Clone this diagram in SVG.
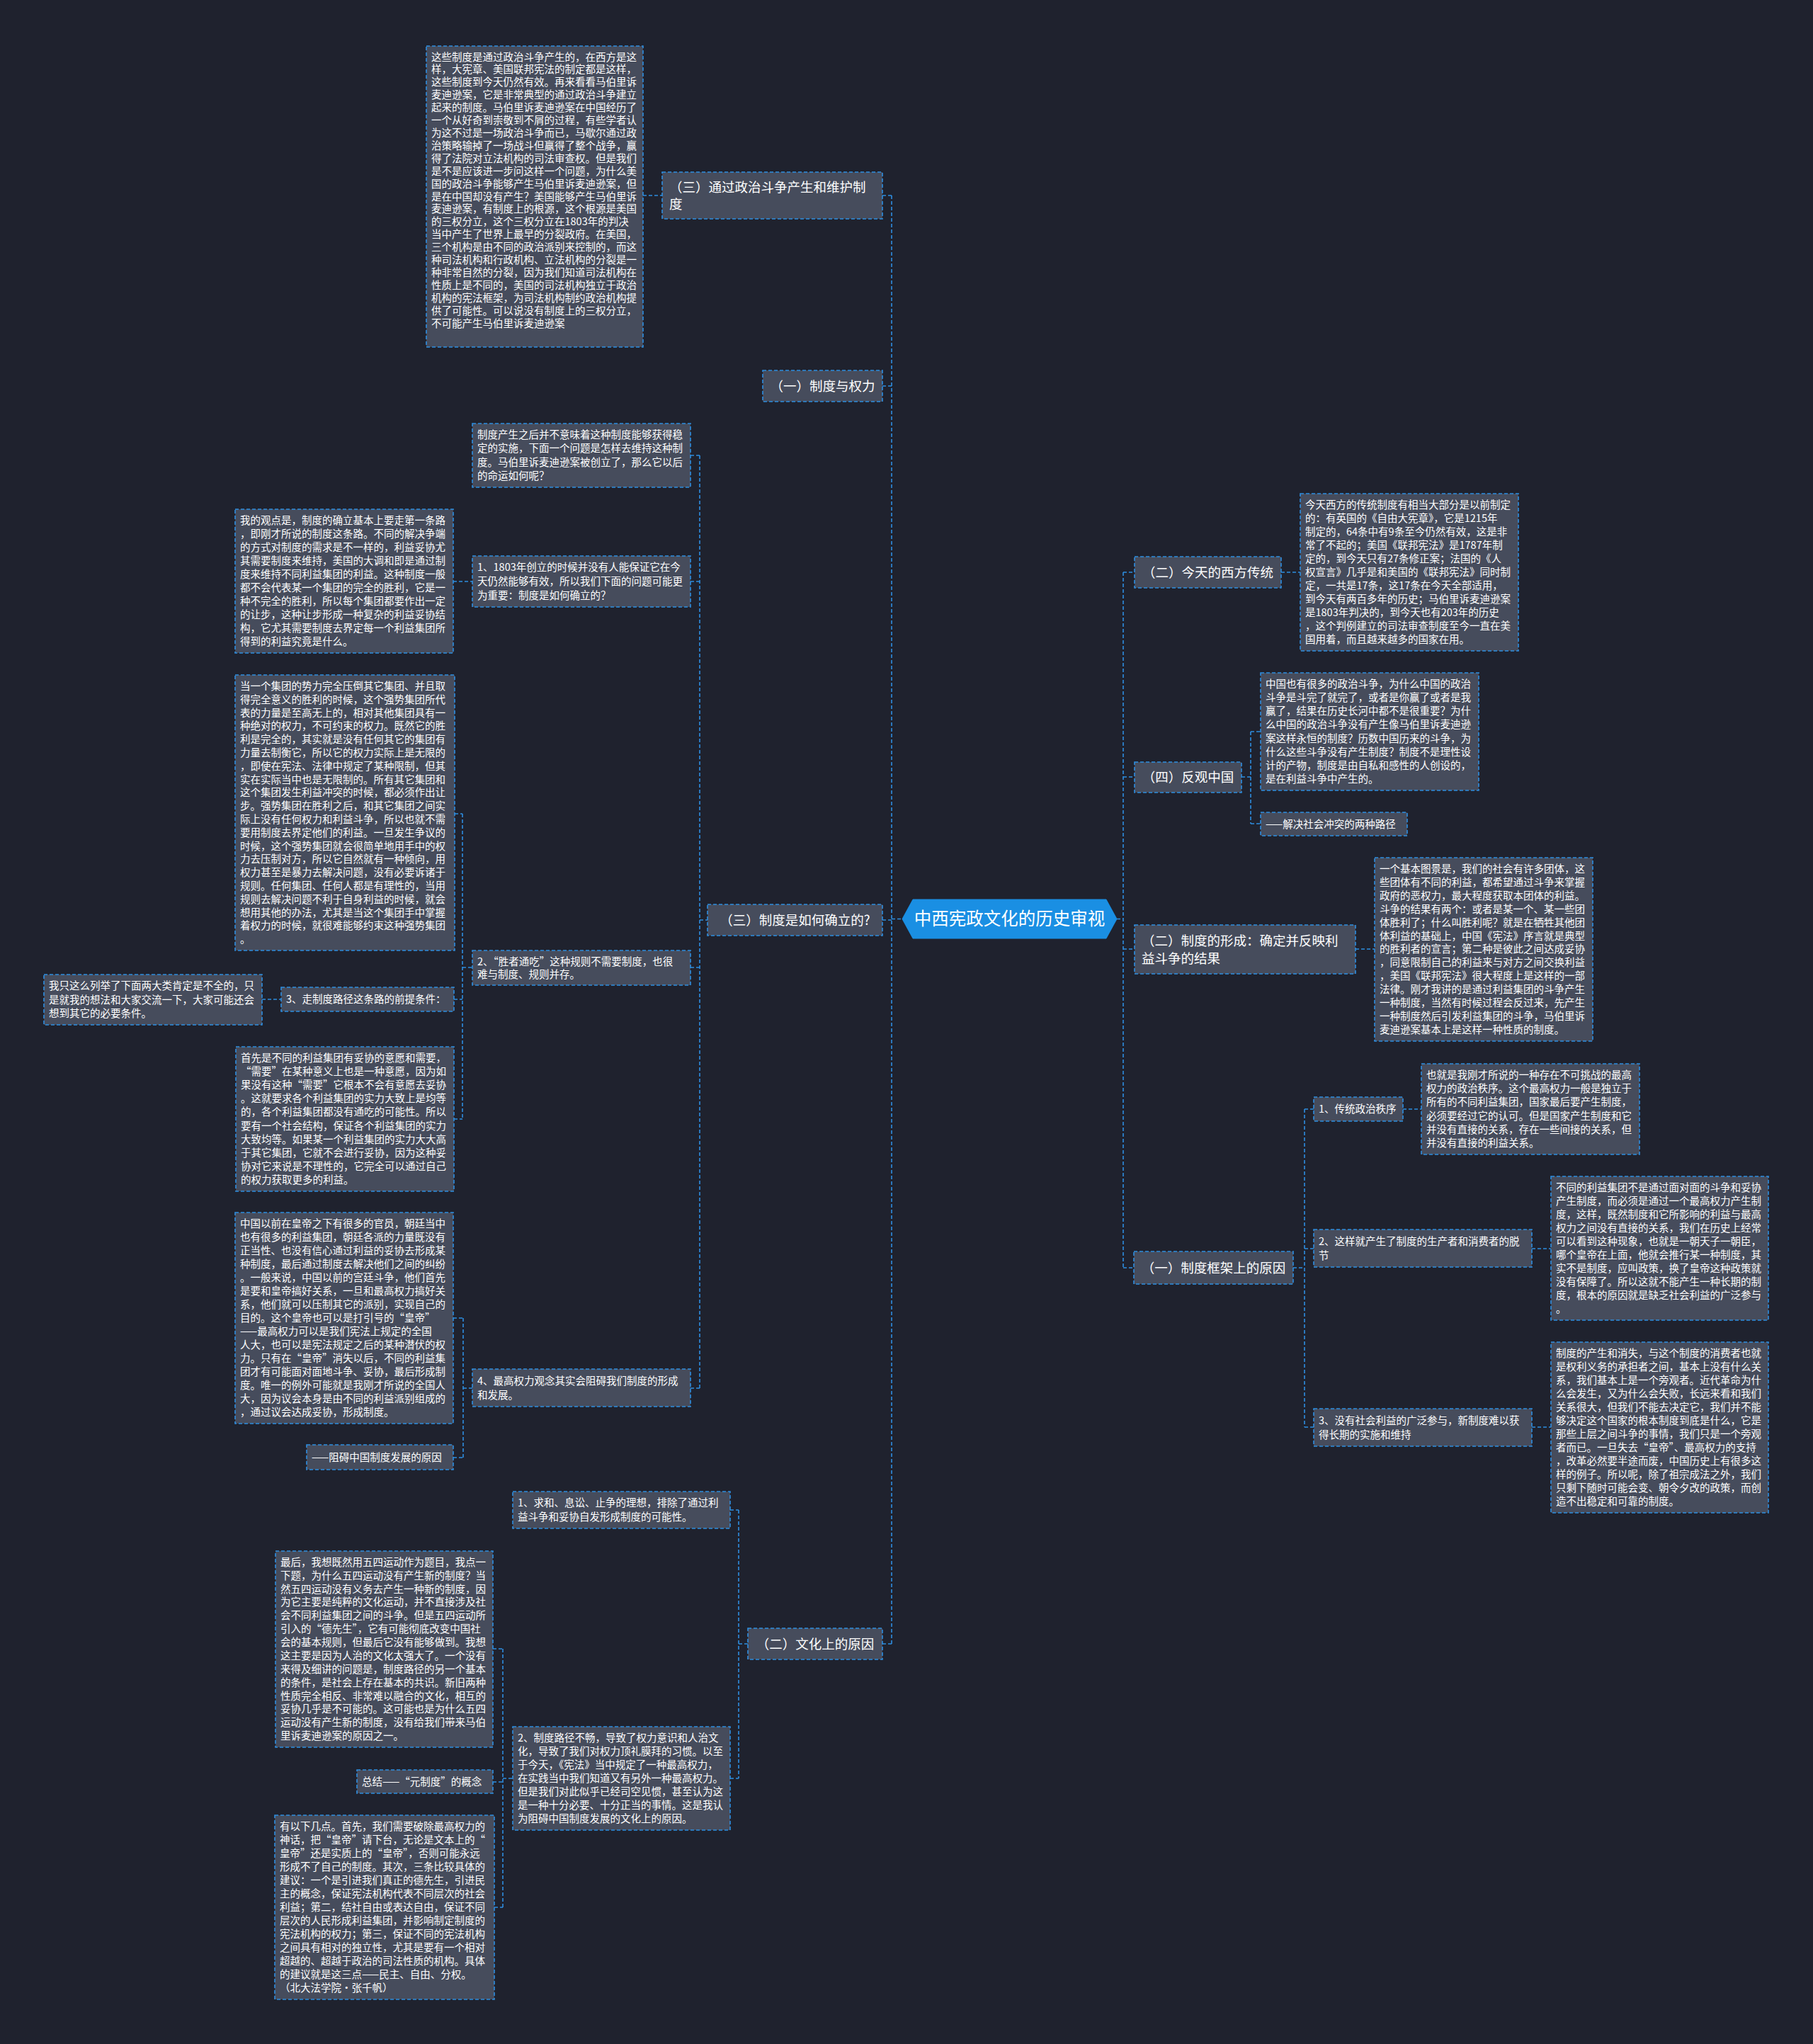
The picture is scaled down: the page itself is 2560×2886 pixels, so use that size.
<svg xmlns="http://www.w3.org/2000/svg" width="2560" height="2886" viewBox="0 0 2560 2886">
<style>
.bg{fill:#1f222e}
.n rect{fill:#464c5c;stroke:#2e8ee0;stroke-width:1.6;stroke-dasharray:5 3}
text{font-family:"Noto Sans CJK SC","Noto Sans",sans-serif;fill:#ffffff}
.t{font-size:14.5px}
.h{font-size:18.5px}
.m{text-anchor:middle}
.c path{fill:none;stroke:#2e8ee0;stroke-width:1.6;stroke-dasharray:5 3}
</style>
<rect class="bg" x="0" y="0" width="2560" height="2886"/>

<g class="c" id="connectors">
<path d="M1259 276V2321M1246 276H1259M1246 545H1259M1246 1299H1259M1246 2321H1259M1259 1297.5H1274"/>
<path d="M908 276H935"/>
<path d="M988 643V1960M975 643H988M975 821H988M975 1366H988M975 1960H988M988 1299H999"/>
<path d="M640 821H667"/>
<path d="M653 1149V1580M642 1149H653M641 1411H653M641 1580H653M653 1366H667"/>
<path d="M370 1411H397"/>
<path d="M654 1861V2058M640 1861H654M640 2058H654M654 1960H667"/>
<path d="M1043 2132V2511M1031 2132H1043M1031 2511H1043M1043 2321H1056"/>
<path d="M710 2328V2693M696 2328H710M696 2516H710M698 2693H710M710 2511H724"/>
<path d="M1586 808V1790M1586 808H1602M1586 1097H1602M1586 1340H1602M1586 1790H1601M1577 1297.5H1586"/>
<path d="M1809 808H1836"/>
<path d="M1766 1033V1163M1753 1097H1766M1766 1033H1780M1766 1163H1780"/>
<path d="M1914 1340H1941"/>
<path d="M1842 1566V2015M1826 1790H1842M1842 1566H1855M1842 1763H1855M1842 2015H1855"/>
<path d="M1981 1566H2007M2163 1763H2190M2163 2015H2190"/>
</g>

<g id="center">
<polygon points="1274,1297.5 1289,1270 1562,1270 1577,1297.5 1562,1325 1289,1325" fill="#1a8fe3" stroke="#1a8fe3"/>
<text x="1425.5" y="1306" class="m" font-size="24.5px">中西宪政文化的历史审视</text>
</g>

<g class="n" id="n-l1-politics">
<rect x="935" y="243" width="311" height="66"/>
<text class="h" x="945" y="270.5">（三）通过政治斗争产生和维护制<tspan x="945" dy="24">度</tspan></text>
</g>
<g class="n" id="n-politics-text">
<rect x="602" y="65" width="306" height="425"/>
<text class="t" x="609" y="85.5"><tspan x="609">这些制度是通过政治斗争产生的，在西方是这</tspan><tspan x="609" dy="17.91">样，大宪章、美国联邦宪法的制定都是这样，</tspan><tspan x="609" dy="17.91">这些制度到今天仍然有效。再来看看马伯里诉</tspan><tspan x="609" dy="17.91">麦迪逊案，它是非常典型的通过政治斗争建立</tspan><tspan x="609" dy="17.91">起来的制度。马伯里诉麦迪逊案在中国经历了</tspan><tspan x="609" dy="17.91">一个从好奇到崇敬到不屑的过程，有些学者认</tspan><tspan x="609" dy="17.91">为这不过是一场政治斗争而已，马歇尔通过政</tspan><tspan x="609" dy="17.91">治策略输掉了一场战斗但赢得了整个战争，赢</tspan><tspan x="609" dy="17.91">得了法院对立法机构的司法审查权。但是我们</tspan><tspan x="609" dy="17.91">是不是应该进一步问这样一个问题，为什么美</tspan><tspan x="609" dy="17.91">国的政治斗争能够产生马伯里诉麦迪逊案，但</tspan><tspan x="609" dy="17.91">是在中国却没有产生？美国能够产生马伯里诉</tspan><tspan x="609" dy="17.91">麦迪逊案，有制度上的根源，这个根源是美国</tspan><tspan x="609" dy="17.91">的三权分立，这个三权分立在1803年的判决</tspan><tspan x="609" dy="17.91">当中产生了世界上最早的分裂政府。在美国，</tspan><tspan x="609" dy="17.91">三个机构是由不同的政治派别来控制的，而这</tspan><tspan x="609" dy="17.91">种司法机构和行政机构、立法机构的分裂是一</tspan><tspan x="609" dy="17.91">种非常自然的分裂，因为我们知道司法机构在</tspan><tspan x="609" dy="17.91">性质上是不同的，美国的司法机构独立于政治</tspan><tspan x="609" dy="17.91">机构的宪法框架，为司法机构制约政治机构提</tspan><tspan x="609" dy="17.91">供了可能性。可以说没有制度上的三权分立，</tspan><tspan x="609" dy="17.91">不可能产生马伯里诉麦迪逊案</tspan></text>
</g>

<g class="n" id="n-l1-power">
<rect x="1077" y="523" width="169" height="44"/>
<text class="h m" x="1161.5" y="551.5">（一）制度与权力</text>
</g>

<g class="n" id="n-l1-how">
<rect x="999" y="1277" width="247" height="44"/>
<text class="h m" x="1122.5" y="1305.5">（三）制度是如何确立的?</text>
</g>
<g class="n" id="n-how-0">
<rect x="667" y="598" width="308" height="90"/>
<text class="t" x="674" y="619.1"><tspan x="674">制度产生之后并不意味着这种制度能够获得稳</tspan><tspan x="674" dy="19.25">定的实施，下面一个问题是怎样去维持这种制</tspan><tspan x="674" dy="19.25">度。马伯里诉麦迪逊案被创立了，那么它以后</tspan><tspan x="674" dy="19.25">的命运如何呢？</tspan></text>
</g>
<g class="n" id="n-how-1">
<rect x="667" y="785" width="308" height="72"/>
<text class="t" x="674" y="806.3"><tspan x="674">1、1803年创立的时候并没有人能保证它在今</tspan><tspan x="674" dy="19.67">天仍然能够有效，所以我们下面的问题可能更</tspan><tspan x="674" dy="19.67">为重要：制度是如何确立的？</tspan></text>
</g>
<g class="n" id="n-how-1-a">
<rect x="332" y="719" width="308" height="203"/>
<text class="t" x="339" y="740"><tspan x="339">我的观点是，制度的确立基本上要走第一条路</tspan><tspan x="339" dy="19">，即刚才所说的制度这条路。不同的解决争端</tspan><tspan x="339" dy="19">的方式对制度的需求是不一样的，利益妥协尤</tspan><tspan x="339" dy="19">其需要制度来维持，美国的大调和即是通过制</tspan><tspan x="339" dy="19">度来维持不同利益集团的利益。这种制度一般</tspan><tspan x="339" dy="19">都不会代表某一个集团的完全的胜利，它是一</tspan><tspan x="339" dy="19">种不完全的胜利，所以每个集团都要作出一定</tspan><tspan x="339" dy="19">的让步，这种让步形成一种复杂的利益妥协结</tspan><tspan x="339" dy="19">构，它尤其需要制度去界定每一个利益集团所</tspan><tspan x="339" dy="19">得到的利益究竟是什么。</tspan></text>
</g>
<g class="n" id="n-how-2">
<rect x="667" y="1342" width="308" height="49"/>
<text class="t" x="674" y="1362.5"><tspan x="674">2、“胜者通吃”这种规则不需要制度，也很</tspan><tspan x="674" dy="18">难与制度、规则并存。</tspan></text>
</g>
<g class="n" id="n-how-2-a">
<rect x="332" y="953" width="310" height="389"/>
<text class="t" x="339" y="973.9"><tspan x="339">当一个集团的势力完全压倒其它集团、并且取</tspan><tspan x="339" dy="18.8">得完全意义的胜利的时候，这个强势集团所代</tspan><tspan x="339" dy="18.8">表的力量是至高无上的，相对其他集团具有一</tspan><tspan x="339" dy="18.8">种绝对的权力，不可约束的权力。既然它的胜</tspan><tspan x="339" dy="18.8">利是完全的，其实就是没有任何其它的集团有</tspan><tspan x="339" dy="18.8">力量去制衡它，所以它的权力实际上是无限的</tspan><tspan x="339" dy="18.8">，即使在宪法、法律中规定了某种限制，但其</tspan><tspan x="339" dy="18.8">实在实际当中也是无限制的。所有其它集团和</tspan><tspan x="339" dy="18.8">这个集团发生利益冲突的时候，都必须作出让</tspan><tspan x="339" dy="18.8">步。强势集团在胜利之后，和其它集团之间实</tspan><tspan x="339" dy="18.8">际上没有任何权力和利益斗争，所以也就不需</tspan><tspan x="339" dy="18.8">要用制度去界定他们的利益。一旦发生争议的</tspan><tspan x="339" dy="18.8">时候，这个强势集团就会很简单地用手中的权</tspan><tspan x="339" dy="18.8">力去压制对方，所以它自然就有一种倾向，用</tspan><tspan x="339" dy="18.8">权力甚至是暴力去解决问题，没有必要诉诸于</tspan><tspan x="339" dy="18.8">规则。任何集团、任何人都是有理性的，当用</tspan><tspan x="339" dy="18.8">规则去解决问题不利于自身利益的时候，就会</tspan><tspan x="339" dy="18.8">想用其他的办法，尤其是当这个集团手中掌握</tspan><tspan x="339" dy="18.8">着权力的时候，就很难能够约束这种强势集团</tspan><tspan x="339" dy="18.8">。</tspan></text>
</g>
<g class="n" id="n-how-3">
<rect x="397" y="1394" width="244" height="34"/>
<text class="t" x="404" y="1416">3、走制度路径这条路的前提条件：</text>
</g>
<g class="n" id="n-how-3-a">
<rect x="62" y="1376" width="308" height="71"/>
<text class="t" x="69" y="1397.2"><tspan x="69">我只这么列举了下面两大类肯定是不全的，只</tspan><tspan x="69" dy="19.3">是就我的想法和大家交流一下，大家可能还会</tspan><tspan x="69" dy="19.3">想到其它的必要条件。</tspan></text>
</g>
<g class="n" id="n-how-2-b">
<rect x="333" y="1478" width="308" height="204"/>
<text class="t" x="340" y="1499"><tspan x="340">首先是不同的利益集团有妥协的意愿和需要，</tspan><tspan x="340" dy="19.1">“需要”在某种意义上也是一种意愿，因为如</tspan><tspan x="340" dy="19.1">果没有这种“需要”它根本不会有意愿去妥协</tspan><tspan x="340" dy="19.1">。这就要求各个利益集团的实力大致上是均等</tspan><tspan x="340" dy="19.1">的，各个利益集团都没有通吃的可能性。所以</tspan><tspan x="340" dy="19.1">要有一个社会结构，保证各个利益集团的实力</tspan><tspan x="340" dy="19.1">大致均等。如果某一个利益集团的实力大大高</tspan><tspan x="340" dy="19.1">于其它集团，它就不会进行妥协，因为这种妥</tspan><tspan x="340" dy="19.1">协对它来说是不理性的，它完全可以通过自己</tspan><tspan x="340" dy="19.1">的权力获取更多的利益。</tspan></text>
</g>
<g class="n" id="n-how-4">
<rect x="667" y="1933" width="308" height="53"/>
<text class="t" x="674" y="1954.5"><tspan x="674">4、最高权力观念其实会阻碍我们制度的形成</tspan><tspan x="674" dy="20">和发展。</tspan></text>
</g>
<g class="n" id="n-how-4-a">
<rect x="332" y="1712" width="308" height="298"/>
<text class="t" x="339" y="1733"><tspan x="339">中国以前在皇帝之下有很多的官员，朝廷当中</tspan><tspan x="339" dy="19">也有很多的利益集团，朝廷各派的力量既没有</tspan><tspan x="339" dy="19">正当性、也没有信心通过利益的妥协去形成某</tspan><tspan x="339" dy="19">种制度，最后通过制度去解决他们之间的纠纷</tspan><tspan x="339" dy="19">。一般来说，中国以前的宫廷斗争，他们首先</tspan><tspan x="339" dy="19">是要和皇帝搞好关系，一旦和最高权力搞好关</tspan><tspan x="339" dy="19">系，他们就可以压制其它的派别，实现自己的</tspan><tspan x="339" dy="19">目的。这个皇帝也可以是打引号的“皇帝”</tspan><tspan x="339" dy="19">——最高权力可以是我们宪法上规定的全国</tspan><tspan x="339" dy="19">人大，也可以是宪法规定之后的某种潜伏的权</tspan><tspan x="339" dy="19">力。只有在“皇帝”消失以后，不同的利益集</tspan><tspan x="339" dy="19">团才有可能面对面地斗争、妥协，最后形成制</tspan><tspan x="339" dy="19">度。唯一的例外可能就是我刚才所说的全国人</tspan><tspan x="339" dy="19">大，因为议会本身是由不同的利益派别组成的</tspan><tspan x="339" dy="19">，通过议会达成妥协，形成制度。</tspan></text>
</g>
<g class="n" id="n-how-4-b">
<rect x="433" y="2040" width="207" height="35"/>
<text class="t" x="440" y="2062.5">——阻碍中国制度发展的原因</text>
</g>

<g class="n" id="n-l1-culture">
<rect x="1056" y="2299" width="190" height="44"/>
<text class="h m" x="1151" y="2327.5">（二）文化上的原因</text>
</g>
<g class="n" id="n-culture-1">
<rect x="724" y="2106" width="307" height="52"/>
<text class="t" x="731" y="2127.3"><tspan x="731">1、求和、息讼、止争的理想，排除了通过利</tspan><tspan x="731" dy="19.5">益斗争和妥协自发形成制度的可能性。</tspan></text>
</g>
<g class="n" id="n-culture-2">
<rect x="724" y="2438" width="307" height="146"/>
<text class="t" x="731" y="2459"><tspan x="731">2、制度路径不畅，导致了权力意识和人治文</tspan><tspan x="731" dy="19">化，导致了我们对权力顶礼膜拜的习惯。以至</tspan><tspan x="731" dy="19">于今天，《宪法》当中规定了一种最高权力，</tspan><tspan x="731" dy="19">在实践当中我们知道又有另外一种最高权力。</tspan><tspan x="731" dy="19">但是我们对此似乎已经司空见惯，甚至认为这</tspan><tspan x="731" dy="19">是一种十分必要、十分正当的事情。这是我认</tspan><tspan x="731" dy="19">为阻碍中国制度发展的文化上的原因。</tspan></text>
</g>
<g class="n" id="n-culture-2-a">
<rect x="389" y="2190" width="307" height="277"/>
<text class="t" x="396" y="2210.9"><tspan x="396">最后，我想既然用五四运动作为题目，我点一</tspan><tspan x="396" dy="18.86">下题，为什么五四运动没有产生新的制度？当</tspan><tspan x="396" dy="18.86">然五四运动没有义务去产生一种新的制度，因</tspan><tspan x="396" dy="18.86">为它主要是纯粹的文化运动，并不直接涉及社</tspan><tspan x="396" dy="18.86">会不同利益集团之间的斗争。但是五四运动所</tspan><tspan x="396" dy="18.86">引入的“德先生”，它有可能彻底改变中国社</tspan><tspan x="396" dy="18.86">会的基本规则，但最后它没有能够做到。我想</tspan><tspan x="396" dy="18.86">这主要是因为人治的文化太强大了。一个没有</tspan><tspan x="396" dy="18.86">来得及细讲的问题是，制度路径的另一个基本</tspan><tspan x="396" dy="18.86">的条件，是社会上存在基本的共识。新旧两种</tspan><tspan x="396" dy="18.86">性质完全相反、非常难以融合的文化，相互的</tspan><tspan x="396" dy="18.86">妥协几乎是不可能的。这可能也是为什么五四</tspan><tspan x="396" dy="18.86">运动没有产生新的制度，没有给我们带来马伯</tspan><tspan x="396" dy="18.86">里诉麦迪逊案的原因之一。</tspan></text>
</g>
<g class="n" id="n-culture-2-b">
<rect x="504" y="2499" width="192" height="33"/>
<text class="t" x="511" y="2520.5">总结——“元制度”的概念</text>
</g>
<g class="n" id="n-culture-2-c">
<rect x="388" y="2563" width="310" height="260"/>
<text class="t" x="395" y="2584"><tspan x="395">有以下几点。首先，我们需要破除最高权力的</tspan><tspan x="395" dy="19">神话，把“皇帝”请下台，无论是文本上的“</tspan><tspan x="395" dy="19">皇帝”还是实质上的“皇帝”，否则可能永远</tspan><tspan x="395" dy="19">形成不了自己的制度。其次，三条比较具体的</tspan><tspan x="395" dy="19">建议：一个是引进我们真正的德先生，引进民</tspan><tspan x="395" dy="19">主的概念，保证宪法机构代表不同层次的社会</tspan><tspan x="395" dy="19">利益；第二，结社自由或表达自由，保证不同</tspan><tspan x="395" dy="19">层次的人民形成利益集团，并影响制定制度的</tspan><tspan x="395" dy="19">宪法机构的权力；第三，保证不同的宪法机构</tspan><tspan x="395" dy="19">之间具有相对的独立性，尤其是要有一个相对</tspan><tspan x="395" dy="19">超越的、超越于政治的司法性质的机构。具体</tspan><tspan x="395" dy="19">的建议就是这三点——民主、自由、分权。</tspan><tspan x="395" dy="19">（北大法学院·张千帆）</tspan></text>
</g>

<g class="n" id="n-r1-west">
<rect x="1602" y="786" width="207" height="44"/>
<text class="h m" x="1705.5" y="814.5">（二）今天的西方传统</text>
</g>
<g class="n" id="n-west-text">
<rect x="1836" y="697" width="308" height="222"/>
<text class="t" x="1843" y="718"><tspan x="1843">今天西方的传统制度有相当大部分是以前制定</tspan><tspan x="1843" dy="19">的：有英国的《自由大宪章》，它是1215年</tspan><tspan x="1843" dy="19">制定的，64条中有9条至今仍然有效，这是非</tspan><tspan x="1843" dy="19">常了不起的；美国《联邦宪法》是1787年制</tspan><tspan x="1843" dy="19">定的，到今天只有27条修正案；法国的《人</tspan><tspan x="1843" dy="19">权宣言》几乎是和美国的《联邦宪法》同时制</tspan><tspan x="1843" dy="19">定，一共是17条，这17条在今天全部适用，</tspan><tspan x="1843" dy="19">到今天有两百多年的历史；马伯里诉麦迪逊案</tspan><tspan x="1843" dy="19">是1803年判决的，到今天也有203年的历史</tspan><tspan x="1843" dy="19">，这个判例建立的司法审查制度至今一直在美</tspan><tspan x="1843" dy="19">国用着，而且越来越多的国家在用。</tspan></text>
</g>

<g class="n" id="n-r2-china">
<rect x="1602" y="1076" width="151" height="43"/>
<text class="h m" x="1677.5" y="1104">（四）反观中国</text>
</g>
<g class="n" id="n-china-text">
<rect x="1780" y="950" width="308" height="166"/>
<text class="t" x="1787" y="971.1"><tspan x="1787">中国也有很多的政治斗争，为什么中国的政治</tspan><tspan x="1787" dy="19.1">斗争是斗完了就完了，或者是你赢了或者是我</tspan><tspan x="1787" dy="19.1">赢了，结果在历史长河中都不是很重要？为什</tspan><tspan x="1787" dy="19.1">么中国的政治斗争没有产生像马伯里诉麦迪逊</tspan><tspan x="1787" dy="19.1">案这样永恒的制度？历数中国历来的斗争，为</tspan><tspan x="1787" dy="19.1">什么这些斗争没有产生制度？制度不是理性设</tspan><tspan x="1787" dy="19.1">计的产物，制度是由自私和感性的人创设的，</tspan><tspan x="1787" dy="19.1">是在利益斗争中产生的。</tspan></text>
</g>
<g class="n" id="n-china-path">
<rect x="1780" y="1147" width="207" height="33"/>
<text class="t" x="1787" y="1168.5">——解决社会冲突的两种路径</text>
</g>

<g class="n" id="n-r3-form">
<rect x="1602" y="1306" width="312" height="69"/>
<text class="h" x="1612" y="1334.5">（二）制度的形成：确定并反映利<tspan x="1612" dy="25">益斗争的结果</tspan></text>
</g>
<g class="n" id="n-form-text">
<rect x="1941" y="1211" width="308" height="259"/>
<text class="t" x="1948" y="1232"><tspan x="1948">一个基本图景是，我们的社会有许多团体，这</tspan><tspan x="1948" dy="18.9">些团体有不同的利益，都希望通过斗争来掌握</tspan><tspan x="1948" dy="18.9">政府的恶权力，最大程度获取本团体的利益。</tspan><tspan x="1948" dy="18.9">斗争的结果有两个：或者是某一个、某一些团</tspan><tspan x="1948" dy="18.9">体胜利了；什么叫胜利呢？就是在牺牲其他团</tspan><tspan x="1948" dy="18.9">体利益的基础上，中国《宪法》序言就是典型</tspan><tspan x="1948" dy="18.9">的胜利者的宣言；第二种是彼此之间达成妥协</tspan><tspan x="1948" dy="18.9">，同意限制自己的利益来与对方之间交换利益</tspan><tspan x="1948" dy="18.9">，美国《联邦宪法》很大程度上是这样的一部</tspan><tspan x="1948" dy="18.9">法律。刚才我讲的是通过利益集团的斗争产生</tspan><tspan x="1948" dy="18.9">一种制度，当然有时候过程会反过来，先产生</tspan><tspan x="1948" dy="18.9">一种制度然后引发利益集团的斗争，马伯里诉</tspan><tspan x="1948" dy="18.9">麦迪逊案基本上是这样一种性质的制度。</tspan></text>
</g>

<g class="n" id="n-r4-frame">
<rect x="1601" y="1767" width="225" height="46"/>
<text class="h m" x="1713.5" y="1796.5">（一）制度框架上的原因</text>
</g>
<g class="n" id="n-frame-1">
<rect x="1855" y="1549" width="126" height="34"/>
<text class="t" x="1862" y="1571">1、传统政治秩序</text>
</g>
<g class="n" id="n-frame-1-text">
<rect x="2007" y="1502" width="308" height="128"/>
<text class="t" x="2014" y="1523.1"><tspan x="2014">也就是我刚才所说的一种存在不可挑战的最高</tspan><tspan x="2014" dy="19.17">权力的政治秩序。这个最高权力一般是独立于</tspan><tspan x="2014" dy="19.17">所有的不同利益集团，国家最后要产生制度，</tspan><tspan x="2014" dy="19.17">必须要经过它的认可。但是国家产生制度和它</tspan><tspan x="2014" dy="19.17">并没有直接的关系，存在一些间接的关系，但</tspan><tspan x="2014" dy="19.17">并没有直接的利益关系。</tspan></text>
</g>
<g class="n" id="n-frame-2">
<rect x="1855" y="1736" width="308" height="53"/>
<text class="t" x="1862" y="1757.5"><tspan x="1862">2、这样就产生了制度的生产者和消费者的脱</tspan><tspan x="1862" dy="20">节</tspan></text>
</g>
<g class="n" id="n-frame-2-text">
<rect x="2190" y="1661" width="307" height="203"/>
<text class="t" x="2197" y="1682"><tspan x="2197">不同的利益集团不是通过面对面的斗争和妥协</tspan><tspan x="2197" dy="19">产生制度，而必须是通过一个最高权力产生制</tspan><tspan x="2197" dy="19">度，这样，既然制度和它所影响的利益与最高</tspan><tspan x="2197" dy="19">权力之间没有直接的关系，我们在历史上经常</tspan><tspan x="2197" dy="19">可以看到这种现象，也就是一朝天子一朝臣，</tspan><tspan x="2197" dy="19">哪个皇帝在上面，他就会推行某一种制度，其</tspan><tspan x="2197" dy="19">实不是制度，应叫政策，换了皇帝这种政策就</tspan><tspan x="2197" dy="19">没有保障了。所以这就不能产生一种长期的制</tspan><tspan x="2197" dy="19">度，根本的原因就是缺乏社会利益的广泛参与</tspan><tspan x="2197" dy="19">。</tspan></text>
</g>
<g class="n" id="n-frame-3">
<rect x="1855" y="1989" width="308" height="53"/>
<text class="t" x="1862" y="2010.5"><tspan x="1862">3、没有社会利益的广泛参与，新制度难以获</tspan><tspan x="1862" dy="20">得长期的实施和维持</tspan></text>
</g>
<g class="n" id="n-frame-3-text">
<rect x="2190" y="1895" width="307" height="241"/>
<text class="t" x="2197" y="1916"><tspan x="2197">制度的产生和消失，与这个制度的消费者也就</tspan><tspan x="2197" dy="19">是权利义务的承担者之间，基本上没有什么关</tspan><tspan x="2197" dy="19">系，我们基本上是一个旁观者。近代革命为什</tspan><tspan x="2197" dy="19">么会发生，又为什么会失败，长远来看和我们</tspan><tspan x="2197" dy="19">关系很大，但我们不能去决定它，我们并不能</tspan><tspan x="2197" dy="19">够决定这个国家的根本制度到底是什么，它是</tspan><tspan x="2197" dy="19">那些上层之间斗争的事情，我们只是一个旁观</tspan><tspan x="2197" dy="19">者而已。一旦失去“皇帝”、最高权力的支持</tspan><tspan x="2197" dy="19">，改革必然要半途而废，中国历史上有很多这</tspan><tspan x="2197" dy="19">样的例子。所以呢，除了祖宗成法之外，我们</tspan><tspan x="2197" dy="19">只剩下随时可能会变、朝令夕改的政策，而创</tspan><tspan x="2197" dy="19">造不出稳定和可靠的制度。</tspan></text>
</g>
</svg>
